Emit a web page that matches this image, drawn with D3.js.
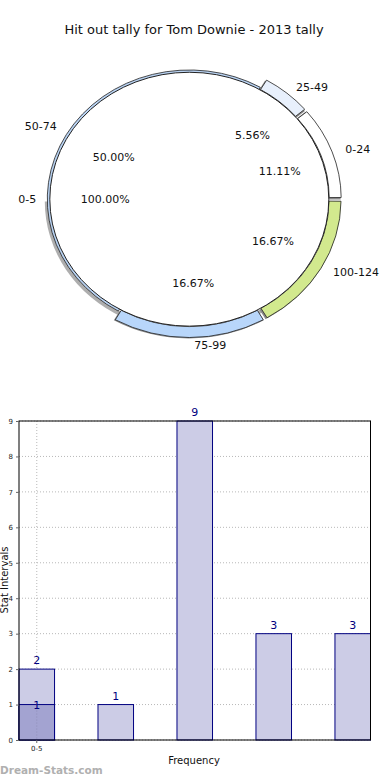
<!DOCTYPE html>
<html><head><meta charset="utf-8">
<script src="https://cdn.jsdelivr.net/npm/d3@7"></script>
<style>body{margin:0;background:#fff}svg{display:block;font-family:"DejaVu Sans",sans-serif}</style>
</head><body>
<svg id="c" width="390" height="780"></svg>
<script>
const title = "Hit out tally for Tom Downie - 2013 tally";
// Pie series (outer): ranges and counts
const pieCats = ["0-24","25-49","50-74","75-99","100-124"];
const pieVals = [2,1,9,3,3];
const pieColors = ["#ffffff","#e8f0fc","#b9d3f3","#b8d6fa","#d2e98e"];
const pieExploded = [true,true,false,true,true];
// Inner series
const innerCats = ["0-5"];
const innerVals = [1];
// Bar chart
const barCats = ["0-24","25-49","50-74","75-99","100-124"];
const barVals = [2,1,9,3,3];
const barVals2 = [1,null,null,null,null];
const xTickLabels = ["0-5","","","",""];
const yTicks = [0,1,2,3,4,5,6,7,8,9];

const svg = d3.select("#c");
svg.append("text").attr("x",194).attr("y",34).attr("text-anchor","middle")
  .attr("font-size",13).attr("fill","#111").text(title);

// ---------- Pie ----------
const cx = 189.3, cy = 199.2, ky = 0.91;
const g = svg.append("g").attr("transform",`translate(${cx},${cy}) scale(1,${ky})`);
const pie = d3.pie().sort(null).value(d=>d).startAngle(Math.PI/2).endAngle(Math.PI/2-2*Math.PI);
const arcsData = pie(pieVals);
const rIn = 139.5;
const total = d3.sum(pieVals);

// shadow along lower-left
const shadowArc = d3.arc().innerRadius(139).outerRadius(143);
g.append("path").attr("d", shadowArc({startAngle: -Math.PI*0.5, endAngle:-Math.PI*1.2}))
  .attr("transform","translate(-1.5,2.5)").attr("fill","#9a9a9a").attr("opacity",0.8);

arcsData.forEach((a,i)=>{
  const mid = (a.startAngle+a.endAngle)/2;
  const off = pieExploded[i] ? 2 : 0;
  const dx = Math.sin(mid)*off, dy = -Math.cos(mid)*off;
  const outer = pieExploded[i] ? 150 : 142;
  const pad = pieExploded[i] ? 0.008 : 0;
  if (pieExploded[i]) {
    g.append("path").attr("d", d3.arc().innerRadius(138).outerRadius(outer)({startAngle:a.startAngle, endAngle:a.endAngle}))
      .attr("transform",`translate(${dx-0.5},${dy+1})`).attr("fill","#8a8a8a");
  }
  g.append("path")
    .attr("d", d3.arc().innerRadius(138).outerRadius(outer)({startAngle:a.startAngle - pad, endAngle:a.endAngle + pad}))
    .attr("transform",`translate(${dx},${dy})`)
    .attr("fill",pieColors[i]).attr("stroke","#222").attr("stroke-width",0.8)
    .attr("vector-effect","non-scaling-stroke");
});
// inner white disc (inner series 100%)
const innerPie = pie(innerVals);
g.append("path").attr("d", d3.arc().innerRadius(0).outerRadius(rIn)(innerPie[0]))
  .attr("fill","#fff").attr("stroke","#222").attr("stroke-width",1)
  .attr("vector-effect","non-scaling-stroke");

const lab = svg.append("g").attr("font-size",11).attr("fill","#111");
function outerLabel(angle, text){
  const c = Math.sin(angle), s = Math.cos(angle);
  const right = c >= -0.01;
  const xx = right ? cx + 166*c + (Math.abs(c)<0.2?5:0) : cx + 153*c;
  const yy = cy - 146*s;
  lab.append("text").attr("x",xx).attr("y",yy+4).attr("text-anchor", right?"start":"end").text(text);
}
function innerLabel(angle, r, text){
  lab.append("text").attr("x",cx + 4 + Math.sin(angle)*r).attr("y",cy - Math.cos(angle)*r*ky + 4)
    .attr("text-anchor","middle").text(text);
}
arcsData.forEach((a,i)=>{
  const mid = (a.startAngle+a.endAngle)/2;
  outerLabel(mid, pieCats[i]);
  innerLabel(mid, 92, (pieVals[i]/total*100).toFixed(2)+"%");
});
innerPie.forEach((a,i)=>{
  const mid = (a.startAngle+a.endAngle)/2;
  outerLabel(mid, innerCats[i]);
  innerLabel(mid, 88, (innerVals[i]/d3.sum(innerVals)*100).toFixed(2)+"%");
});

// ---------- Bars ----------
const L=19, R=370.5, T=421, B=740;
const x = d3.scaleBand().domain(d3.range(barCats.length)).range([L,R]).paddingInner(0.55).paddingOuter(0);
const y = d3.scaleLinear().domain([0,9]).range([B,T]);
const bg = svg.append("g");
bg.selectAll("line.h").data(yTicks).join("line")
  .attr("x1",L).attr("x2",R+2).attr("y1",d=>y(d)).attr("y2",d=>y(d))
  .attr("stroke","#b8b8b8").attr("stroke-dasharray","1,2").attr("stroke-width",1);
bg.append("line").attr("x1",x(0)+x.bandwidth()/2).attr("x2",x(0)+x.bandwidth()/2).attr("y1",T).attr("y2",B)
  .attr("stroke","#b8b8b8").attr("stroke-dasharray","1,2");
bg.selectAll("rect.a").data(barVals).join("rect")
  .attr("x",(d,i)=>x(i)).attr("width",x.bandwidth()).attr("y",d=>y(d)).attr("height",d=>B-y(d))
  .attr("fill","#ccccE6").attr("stroke","#000080").attr("stroke-width",1);
bg.selectAll("rect.b").data(barVals2.map((v,i)=>({v,i})).filter(d=>d.v!=null)).join("rect")
  .attr("x",d=>x(d.i)).attr("width",x.bandwidth()).attr("y",d=>y(d.v)).attr("height",d=>B-y(d.v))
  .attr("fill","#a3a3d1").attr("stroke","#000080").attr("stroke-width",1);
bg.append("line").attr("x1",x(0)+x.bandwidth()/2).attr("x2",x(0)+x.bandwidth()/2).attr("y1",y(1)).attr("y2",B)
  .attr("stroke","#9090b8").attr("stroke-dasharray","1,2");
bg.append("rect").attr("x",L).attr("y",T).attr("width",R-L).attr("height",B-T)
  .attr("fill","none").attr("stroke","#000").attr("stroke-width",1);
bg.selectAll("text.va").data(barVals).join("text")
  .attr("x",(d,i)=>x(i)+x.bandwidth()/2).attr("y",d=>y(d)-5).attr("text-anchor","middle")
  .attr("font-size",11).attr("fill","#000080").text(d=>d);
bg.selectAll("text.vb").data(barVals2.map((v,i)=>({v,i})).filter(d=>d.v!=null)).join("text")
  .attr("x",d=>x(d.i)+x.bandwidth()/2).attr("y",d=>y(d.v)+4).attr("text-anchor","middle")
  .attr("font-size",11).attr("fill","#000080").text(d=>d.v);
const yAx = d3.axisLeft(y).tickValues(yTicks).tickSize(3).tickFormat(d3.format("d"));
const ya = bg.append("g").attr("transform",`translate(${L},0)`).call(yAx);
ya.select(".domain").remove();
ya.selectAll("text").attr("font-size",7).attr("fill","#222").attr("font-family","DejaVu Sans");
ya.selectAll("line").attr("stroke","#666");
const xAx = d3.axisBottom(x).tickSize(3).tickFormat((d,i)=>xTickLabels[i]);
const xa = bg.append("g").attr("transform",`translate(0,${B})`).call(xAx);
xa.select(".domain").remove();
xa.selectAll("text").attr("font-size",7).attr("fill","#222").attr("font-family","DejaVu Sans");
xa.selectAll(".tick").filter((d,i)=>!xTickLabels[i]).remove();
xa.selectAll("line").attr("stroke","#666");
bg.append("text").attr("x",194).attr("y",764).attr("text-anchor","middle").attr("font-size",10).attr("fill","#111").text("Frequency");
bg.append("text").attr("transform","translate(8,580) rotate(-90)").attr("text-anchor","middle").attr("font-size",10).attr("fill","#111").text("Stat Intervals");
svg.append("text").attr("x",0).attr("y",774).attr("font-size",10.5).attr("font-weight","bold").attr("fill","#b0b0b0").text("Dream-Stats.com");
</script>
</body></html>
